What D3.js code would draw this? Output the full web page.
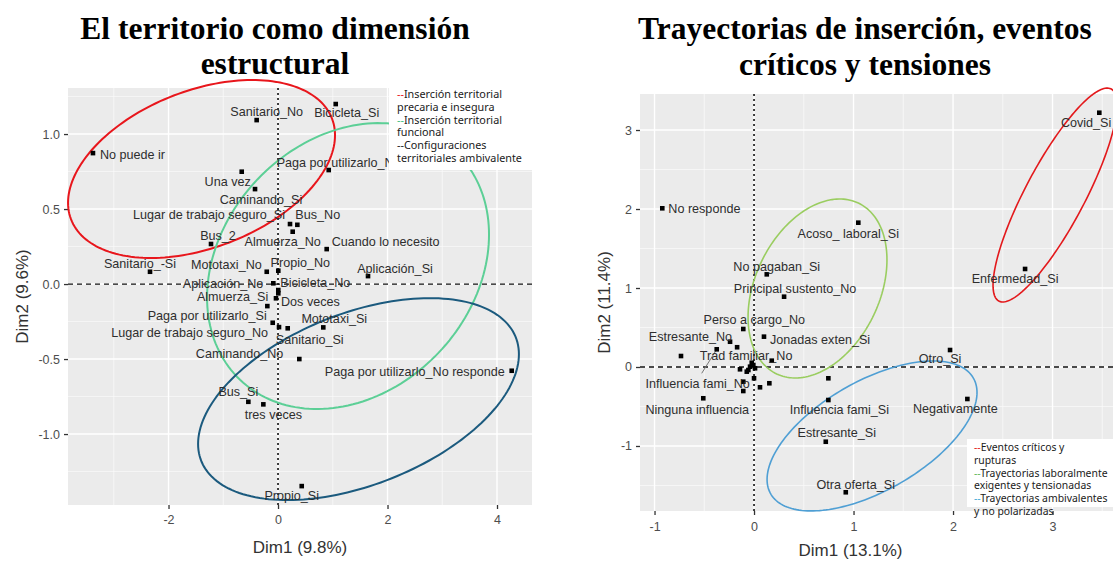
<!DOCTYPE html>
<html><head><meta charset="utf-8">
<script src="https://cdn.jsdelivr.net/npm/d3@7"></script>
<style>body{margin:0;background:#fff}svg{display:block}</style>
</head><body>
<svg id="c" width="1113" height="561"></svg>
<script>
// ================= LEFT PANEL DATA =================
const leftTitle = ["El territorio como dimensión", "estructural"];
const leftNames = ["No puede ir","Sanitario_No","Bicicleta_Si","Paga por utilizarlo_No","Una vez","Caminando_Si",
  "Lugar de trabajo seguro_Si","Bus_No","Almuerza_No","Bus_2","Cuando lo necesito","Propio_No","Aplicación_Si",
  "Sanitario_-Si","Mototaxi_No","Aplicación_No","Bicicleta_No","","Dos veces","Almuerza_Si","Paga por utilizarlo_Si",
  "Lugar de trabajo seguro_No","Mototaxi_Si","Sanitario_Si","Caminando_No","Paga por utilizarlo_No responde",
  "Bus_Si","tres veces","Propio_Si"];
const leftDim1 = [-3.38,-0.39,1.054,0.926,-0.663,-0.42,0.219,0.353,0.268,-1.224,0.889,0.005,1.644,
  -2.338,-0.206,-0.086,0.005,0.005,-0.037,-0.195,-0.097,0.018,0.827,0.177,0.389,4.268,-0.542,-0.268,0.433];
const leftDim2 = [0.873,1.093,1.2,0.76,0.749,0.633,0.40,0.395,0.349,0.267,0.233,0.089,0.053,
  0.082,0.082,0.005,-0.04,-0.062,-0.095,-0.147,-0.258,-0.287,-0.289,-0.295,-0.5,-0.578,-0.785,-0.802,-1.347];
const leftXTicks = [-2, 0, 2, 4];
const leftXTickLabels = ["-2", "0", "2", "4"];
const leftYTicks = [-1, -0.5, 0, 0.5, 1];
const leftYTickLabels = ["-1.0", "-0.5", "0.0", "0.5", "1.0"];
const leftXTitle = "Dim1 (9.8%)";
const leftYTitle = "Dim2 (9.6%)";
const leftLegend = [["Inserción territorial", "precaria e insegura"], ["Inserción territorial", "funcional"], ["Configuraciones", "territoriales ambivalente"]];
// confidence ellipses (data units): centre, half-extent in x and y, correlation
const leftEllCx = [-1.397, 1.279, 1.47];
const leftEllCy = [0.767, 0.12, -0.767];
const leftEllRx = [2.438, 2.575, 2.93];
const leftEllRy = [0.593, 0.953, 0.673];
const leftEllRho = [0.38, 0.22, 0.444];

// ================= RIGHT PANEL DATA =================
const rightTitle = ["Trayectorias de inserción, eventos", "críticos y tensiones"];
const rightNames = ["Covid_Si","Enfermedad_Si","No responde","Acoso_ laboral_Si","No pagaban_Si","Principal sustento_No",
  "Perso a cargo_No","Jonadas exten_Si","Estresante_No","","Influencia fami_No","Trad familiar_No","",
  "","","","","","","","","","","","",
  "Ninguna influencia","","Influencia fami_Si","Estresante_Si","Otra oferta_Si","Otro_Si","Negativamente"];
const rightDim1 = [3.47,2.724,-0.922,1.048,0.128,0.302,-0.108,0.10,-0.241,-0.734,-0.375,-0.17,0.178,
  -0.023,-0.007,-0.04,-0.057,-0.073,0.01,-0.141,0.0,-0.108,0.06,0.154,-0.108,
  -0.51,0.747,0.747,0.721,0.922,1.97,2.144];
const rightDim2 = [3.219,1.241,2.009,1.827,1.173,0.89,0.481,0.384,0.32,0.139,0.224,0.25,0.08,
  0.054,0.025,0.004,-0.038,-0.059,-0.016,-0.029,-0.143,-0.186,-0.257,-0.206,-0.304,
  -0.396,-0.143,-0.418,-0.946,-1.586,0.215,-0.405];
const rightXTicks = [-1, 0, 1, 2, 3];
const rightXTickLabels = ["-1", "0", "1", "2", "3"];
const rightYTicks = [-1, 0, 1, 2, 3];
const rightYTickLabels = ["-1", "0", "1", "2", "3"];
const rightXTitle = "Dim1 (13.1%)";
const rightYTitle = "Dim2 (11.4%)";
const rightLegend = [["Eventos críticos y", "rupturas"], ["Trayectorias laboralmente", "exigentes y tensionadas"], ["Trayectorias ambivalentes", "y no polarizadas"]];
const rightEllCx = [3.025, 0.638, 1.186];
const rightEllCy = [2.177, 0.994, -0.873];
const rightEllRx = [0.623, 0.698, 1.055];
const rightEllRy = [1.354, 1.133, 0.949];
const rightEllRho = [0.843, 0.32, 0.58];

// ================= LAYOUT (label placement: anchor, dx, dy px) =================
const leftLabelPos = [["start",7,1],["middle",10,-9],["middle",11,9],["start",-52,-7],["middle",-14,10],["middle",6,10],
  ["end",-5,-9],["start",-2,-10],["middle",-10,10],["middle",7,-8],["start",5,-8],["middle",22,-8],["middle",27,-8],
  ["middle",-10,-8],["end",-5,-7],["end",-10,0],["start",2,-7],["start",0,0],["start",5,3],["end",1,-10],["end",-6,-7],
  ["end",-11,5],["middle",11,-9],["middle",22,11],["end",-16,-5],["end",-7,1],["middle",-10,-10],["middle",10,10],["middle",-10,9]];
const rightLabelPos = [["end",12,10],["middle",-10,10],["start",6,0],["middle",-10,11],["middle",10,-8],["middle",11,-8],
  ["middle",11,-9],["start",6,3],["end",2,-5],["start",0,0],["middle",-19,34,"leader"],["middle",9,8],["start",0,0],
  ["start",0,0],["start",0,0],["start",0,0],["start",0,0],["start",0,0],["start",0,0],["start",0,0],["start",0,0],["start",0,0],["start",0,0],["start",0,0],["start",0,0],
  ["middle",-6,11],["start",0,0],["middle",11,10],["middle",11,-9],["middle",10,-8],["middle",-10,9],["middle",-12,10]];

const svg = d3.select("#c");
svg.append("rect").attr("width", 1113).attr("height", 561).attr("fill", "#fff");

function drawPanel(cfg) {
  const g = svg.append("g");
  const x = d3.scaleLinear().domain(cfg.xDom).range([cfg.x0, cfg.x1]);
  const y = d3.scaleLinear().domain(cfg.yDom).range([cfg.y1, cfg.y0]);
  // titles
  cfg.title.forEach((t, i) => g.append("text").attr("x", cfg.titleX).attr("y", cfg.titleY[i])
    .attr("text-anchor", "middle").attr("font-family", "Liberation Serif, Times New Roman, serif")
    .attr("font-weight", "bold").attr("font-size", 31.5).attr("fill", "#000").text(t));
  // panel
  g.append("rect").attr("x", cfg.x0).attr("y", cfg.y0).attr("width", cfg.x1 - cfg.x0).attr("height", cfg.y1 - cfg.y0).attr("fill", "#ebebeb");
  const stepX = cfg.xTicks[1] - cfg.xTicks[0], stepY = cfg.yTicks[1] - cfg.yTicks[0];
  const minorX = d3.range(cfg.xTicks[0] - stepX * 3 + stepX / 2, cfg.xTicks[cfg.xTicks.length - 1] + stepX * 3, stepX).filter(v => v > cfg.xDom[0] && v < cfg.xDom[1]);
  const minorY = d3.range(cfg.yTicks[0] - stepY * 3 + stepY / 2, cfg.yTicks[cfg.yTicks.length - 1] + stepY * 3, stepY).filter(v => v > cfg.yDom[0] && v < cfg.yDom[1]);
  minorX.forEach(v => g.append("line").attr("x1", x(v)).attr("x2", x(v)).attr("y1", cfg.y0).attr("y2", cfg.y1).attr("stroke", "#fafafa").attr("stroke-width", 0.7));
  minorY.forEach(v => g.append("line").attr("y1", y(v)).attr("y2", y(v)).attr("x1", cfg.x0).attr("x2", cfg.x1).attr("stroke", "#fafafa").attr("stroke-width", 0.7));
  cfg.xTicks.forEach(v => g.append("line").attr("x1", x(v)).attr("x2", x(v)).attr("y1", cfg.y0).attr("y2", cfg.y1).attr("stroke", "#fff").attr("stroke-width", 1.4));
  cfg.yTicks.forEach(v => g.append("line").attr("y1", y(v)).attr("y2", y(v)).attr("x1", cfg.x0).attr("x2", cfg.x1).attr("stroke", "#fff").attr("stroke-width", 1.4));
  // axes
  const ax = g.append("g").attr("transform", `translate(0,${cfg.y1})`)
    .call(d3.axisBottom(x).tickValues(cfg.xTicks).tickFormat((d, i) => cfg.xLabels[i]).tickSize(4).tickPadding(cfg.xPad));
  const ay = g.append("g").attr("transform", `translate(${cfg.x0},0)`)
    .call(d3.axisLeft(y).tickValues(cfg.yTicks).tickFormat((d, i) => cfg.yLabels[i]).tickSize(4).tickPadding(4));
  [ax, ay].forEach(a => {
    a.select(".domain").remove();
    a.selectAll(".tick line").attr("stroke", "#333").attr("stroke-width", 1.3);
    a.selectAll(".tick text").attr("fill", "#4d4d4d").attr("font-size", 12.5).attr("font-family", "Liberation Sans, Arial, sans-serif");
  });
  // zero reference lines
  g.append("line").attr("x1", cfg.x0).attr("x2", cfg.x1).attr("y1", y(0)).attr("y2", y(0))
    .attr("stroke", "#111").attr("stroke-width", 1.3).attr("stroke-dasharray", "5,4");
  g.append("line").attr("x1", x(0)).attr("x2", x(0)).attr("y1", cfg.y0).attr("y2", cfg.y1)
    .attr("stroke", "#111").attr("stroke-width", 1.6).attr("stroke-dasharray", "2,3");
  // axis titles
  g.append("text").attr("x", (cfg.x0 + Math.min(cfg.x1, 1113)) / 2 + cfg.xTitleShift).attr("y", cfg.xTitleY).attr("text-anchor", "middle")
    .attr("font-family", "Liberation Sans, Arial, sans-serif").attr("font-size", 17).attr("fill", "#333").text(cfg.xTitle);
  g.append("text").attr("transform", `translate(${cfg.yTitleX},${(cfg.y0 + cfg.y1) / 2}) rotate(-90)`).attr("text-anchor", "middle")
    .attr("font-family", "Liberation Sans, Arial, sans-serif").attr("font-size", 17).attr("fill", "#333").text(cfg.yTitle);
  // ellipses
  const ts = d3.range(0, 2 * Math.PI + 0.001, Math.PI / 90);
  const line = d3.line().x(d => x(d[0])).y(d => y(d[1]));
  cfg.ellCx.forEach((cx, k) => {
    const rx = cfg.ellRx[k], ry = cfg.ellRy[k], r = cfg.ellRho[k], cy = cfg.ellCy[k];
    const pts = ts.map(t => [cx + rx * Math.cos(t), cy + ry * (r * Math.cos(t) + Math.sqrt(1 - r * r) * Math.sin(t))]);
    g.append("path").attr("d", line(pts)).attr("fill", "none").attr("stroke", cfg.ellColors[k]).attr("stroke-width", cfg.ellWidth);
  });
  // points
  const data = cfg.names.map((n, i) => ({ n, x: cfg.d1[i], y: cfg.d2[i], p: cfg.pos[i] }));
  data.forEach(d => {
    if (d.p[3] === "leader") {
      g.append("line").attr("x1", x(d.x)).attr("y1", y(d.y)).attr("x2", x(d.x) + d.p[1] + 4).attr("y2", y(d.y) + d.p[2] - 10)
        .attr("stroke", "#777").attr("stroke-width", 1);
    }
  });
  g.selectAll("rect.pt").data(data).enter().append("rect").attr("class", "pt")
    .attr("x", d => x(d.x) - 2.3).attr("y", d => y(d.y) - 2.3).attr("width", 4.6).attr("height", 4.6).attr("fill", "#000");
  g.selectAll("text.lab").data(data.filter(d => d.n)).enter().append("text").attr("class", "lab")
    .attr("x", d => x(d.x) + d.p[1]).attr("y", d => y(d.y) + d.p[2]).attr("dy", "0.35em")
    .attr("text-anchor", d => d.p[0]).attr("font-family", "Liberation Sans, Arial, sans-serif")
    .attr("font-size", 12.6).attr("fill", "#2e2e2e").text(d => d.n);
  // legend box
  const lg = g.append("g");
  lg.append("rect").attr("x", cfg.leg[0]).attr("y", cfg.leg[1]).attr("width", cfg.leg[2]).attr("height", cfg.leg[3]).attr("fill", "#fff");
  cfg.legend.forEach((entry, k) => {
    entry.forEach((ln, j) => {
      const t = lg.append("text").attr("x", cfg.leg[0] + cfg.legPad).attr("y", cfg.legY0 + (k * 2 + j) * 12.8)
        .attr("font-family", "Noto Sans, Open Sans, sans-serif").attr("font-size", cfg.legFont).attr("fill", "#1a1a1a");
      if (j === 0) t.append("tspan").attr("fill", cfg.legColors[k]).text("--");
      t.append("tspan").text(ln);
    });
  });
}

drawPanel({
  title: leftTitle, titleX: 275, titleY: [39, 74],
  x0: 68, x1: 532, y0: 88, y1: 505,
  xDom: [-3.836, 4.639], yDom: [-1.473, 1.307],
  xTicks: leftXTicks, xLabels: leftXTickLabels, yTicks: leftYTicks, yLabels: leftYTickLabels, xPad: 6,
  xTitle: leftXTitle, yTitle: leftYTitle, xTitleY: 553, xTitleShift: 0, yTitleX: 28,
  names: leftNames, d1: leftDim1, d2: leftDim2, pos: leftLabelPos,
  ellCx: leftEllCx, ellCy: leftEllCy, ellRx: leftEllRx, ellRy: leftEllRy, ellRho: leftEllRho,
  ellColors: ["#e8161c", "#5ccf96", "#1b5a7e"], ellWidth: 2,
  legend: leftLegend, legColors: ["#e8161c", "#3fbf7f", "#222"], leg: [389, 88, 144, 82], legPad: 8, legY0: 98, legFont: 10.8
});
drawPanel({
  title: rightTitle, titleX: 865, titleY: [39, 75],
  x0: 640, x1: 1120, y0: 94, y1: 511,
  xDom: [-1.146, 3.678], yDom: [-1.823, 3.456],
  xTicks: rightXTicks, xLabels: rightXTickLabels, yTicks: rightYTicks, yLabels: rightYTickLabels, xPad: 7,
  xTitle: rightXTitle, yTitle: rightYTitle, xTitleY: 556, xTitleShift: -26, yTitleX: 610,
  names: rightNames, d1: rightDim1, d2: rightDim2, pos: rightLabelPos,
  ellCx: rightEllCx, ellCy: rightEllCy, ellRx: rightEllRx, ellRy: rightEllRy, ellRho: rightEllRho,
  ellColors: ["#e3191c", "#9acd60", "#4f9fd4"], ellWidth: 1.6,
  legend: rightLegend, legColors: ["#e3191c", "#5cb85c", "#3fa9d6"], leg: [967, 439, 150, 68], legPad: 7, legY0: 451, legFont: 10.4
});
</script>
</body></html>
